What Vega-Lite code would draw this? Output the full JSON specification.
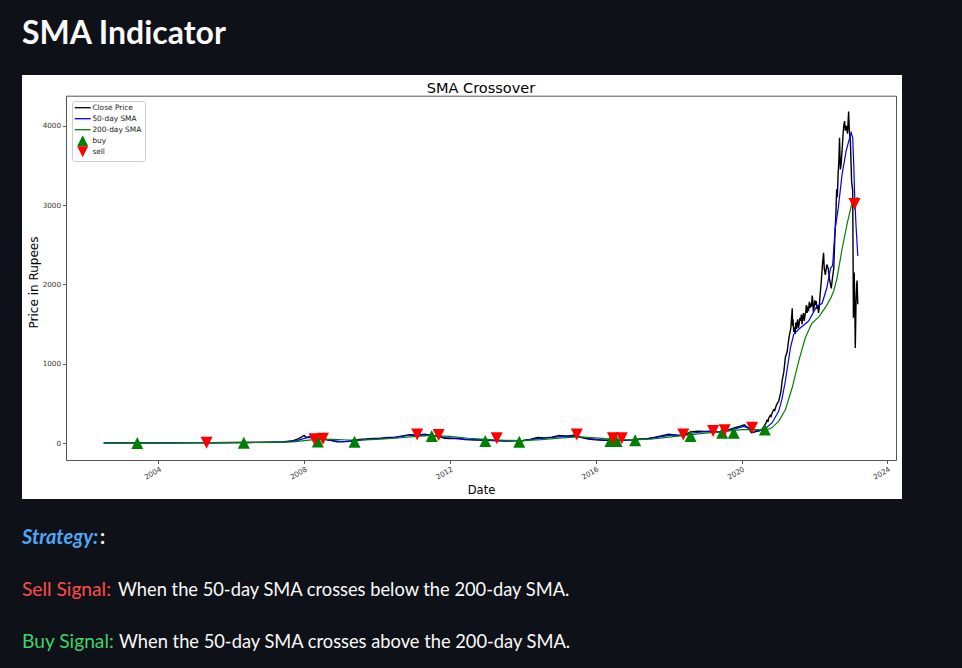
{
  "$schema": "https://vega.github.io/schema/vega-lite/v6.json",
  "background": "#0e1117",
  "padding": {"left": 22, "top": 18, "right": 60, "bottom": 0},
  "title": {"text": "SMA Indicator", "anchor": "start", "font": "Lato", "fontSize": 32, "fontWeight": "bold", "color": "#fafafa", "offset": 24, "frame": "bounds"},
  "config": {"view": {"stroke": null}, "axis": {"grid": false}},
  "spacing": 0,
  "datasets": {
    "close": [
      {"date": "2002-07-01", "series": "Close Price", "value": 2},
      {"date": "2003-01-01", "series": "Close Price", "value": 2},
      {"date": "2003-07-01", "series": "Close Price", "value": 3},
      {"date": "2004-01-01", "series": "Close Price", "value": 3},
      {"date": "2004-07-01", "series": "Close Price", "value": 4},
      {"date": "2005-01-01", "series": "Close Price", "value": 5},
      {"date": "2005-07-01", "series": "Close Price", "value": 4},
      {"date": "2006-01-01", "series": "Close Price", "value": 6},
      {"date": "2006-07-01", "series": "Close Price", "value": 7},
      {"date": "2007-01-01", "series": "Close Price", "value": 10},
      {"date": "2007-05-27", "series": "Close Price", "value": 15},
      {"date": "2007-09-13", "series": "Close Price", "value": 30},
      {"date": "2007-11-06", "series": "Close Price", "value": 55},
      {"date": "2008-01-01", "series": "Close Price", "value": 95},
      {"date": "2008-01-19", "series": "Close Price", "value": 70},
      {"date": "2008-02-25", "series": "Close Price", "value": 80},
      {"date": "2008-04-20", "series": "Close Price", "value": 50},
      {"date": "2008-06-14", "series": "Close Price", "value": 60},
      {"date": "2008-08-08", "series": "Close Price", "value": 45},
      {"date": "2008-10-01", "series": "Close Price", "value": 30},
      {"date": "2008-11-25", "series": "Close Price", "value": 15},
      {"date": "2009-02-06", "series": "Close Price", "value": 18},
      {"date": "2009-04-20", "series": "Close Price", "value": 28},
      {"date": "2009-07-02", "series": "Close Price", "value": 45},
      {"date": "2009-09-13", "series": "Close Price", "value": 50},
      {"date": "2009-11-25", "series": "Close Price", "value": 58},
      {"date": "2010-02-06", "series": "Close Price", "value": 62},
      {"date": "2010-04-20", "series": "Close Price", "value": 70},
      {"date": "2010-07-02", "series": "Close Price", "value": 75},
      {"date": "2010-09-13", "series": "Close Price", "value": 90},
      {"date": "2010-11-25", "series": "Close Price", "value": 105},
      {"date": "2011-02-06", "series": "Close Price", "value": 100},
      {"date": "2011-04-20", "series": "Close Price", "value": 110},
      {"date": "2011-07-02", "series": "Close Price", "value": 95},
      {"date": "2011-09-13", "series": "Close Price", "value": 85},
      {"date": "2011-11-06", "series": "Close Price", "value": 60},
      {"date": "2012-01-01", "series": "Close Price", "value": 55},
      {"date": "2012-03-15", "series": "Close Price", "value": 60},
      {"date": "2012-05-27", "series": "Close Price", "value": 45},
      {"date": "2012-08-08", "series": "Close Price", "value": 40},
      {"date": "2012-10-19", "series": "Close Price", "value": 38},
      {"date": "2013-01-01", "series": "Close Price", "value": 35},
      {"date": "2013-03-15", "series": "Close Price", "value": 30},
      {"date": "2013-05-27", "series": "Close Price", "value": 28},
      {"date": "2013-08-08", "series": "Close Price", "value": 25},
      {"date": "2013-10-19", "series": "Close Price", "value": 30},
      {"date": "2014-01-01", "series": "Close Price", "value": 32},
      {"date": "2014-03-15", "series": "Close Price", "value": 45},
      {"date": "2014-05-27", "series": "Close Price", "value": 70},
      {"date": "2014-08-08", "series": "Close Price", "value": 65},
      {"date": "2014-10-19", "series": "Close Price", "value": 75},
      {"date": "2015-01-01", "series": "Close Price", "value": 95},
      {"date": "2015-03-15", "series": "Close Price", "value": 85},
      {"date": "2015-05-27", "series": "Close Price", "value": 100},
      {"date": "2015-08-08", "series": "Close Price", "value": 70},
      {"date": "2015-10-19", "series": "Close Price", "value": 50},
      {"date": "2016-01-01", "series": "Close Price", "value": 40},
      {"date": "2016-03-15", "series": "Close Price", "value": 35},
      {"date": "2016-05-27", "series": "Close Price", "value": 38},
      {"date": "2016-08-08", "series": "Close Price", "value": 33},
      {"date": "2016-10-19", "series": "Close Price", "value": 35},
      {"date": "2017-01-01", "series": "Close Price", "value": 40},
      {"date": "2017-03-15", "series": "Close Price", "value": 50},
      {"date": "2017-05-27", "series": "Close Price", "value": 55},
      {"date": "2017-08-08", "series": "Close Price", "value": 70},
      {"date": "2017-10-19", "series": "Close Price", "value": 90},
      {"date": "2018-01-01", "series": "Close Price", "value": 110},
      {"date": "2018-03-15", "series": "Close Price", "value": 100},
      {"date": "2018-05-27", "series": "Close Price", "value": 95},
      {"date": "2018-08-08", "series": "Close Price", "value": 140},
      {"date": "2018-10-19", "series": "Close Price", "value": 150},
      {"date": "2019-01-01", "series": "Close Price", "value": 145},
      {"date": "2019-03-15", "series": "Close Price", "value": 150},
      {"date": "2019-05-27", "series": "Close Price", "value": 140},
      {"date": "2019-08-08", "series": "Close Price", "value": 160},
      {"date": "2019-10-19", "series": "Close Price", "value": 190},
      {"date": "2019-12-13", "series": "Close Price", "value": 210},
      {"date": "2020-01-30", "series": "Close Price", "value": 230},
      {"date": "2020-03-15", "series": "Close Price", "value": 180},
      {"date": "2020-04-09", "series": "Close Price", "value": 130},
      {"date": "2020-05-27", "series": "Close Price", "value": 145},
      {"date": "2020-07-20", "series": "Close Price", "value": 165},
      {"date": "2020-08-29", "series": "Close Price", "value": 240},
      {"date": "2020-09-13", "series": "Close Price", "value": 290},
      {"date": "2020-09-24", "series": "Close Price", "value": 280},
      {"date": "2020-10-01", "series": "Close Price", "value": 320},
      {"date": "2020-10-15", "series": "Close Price", "value": 350},
      {"date": "2020-10-23", "series": "Close Price", "value": 335},
      {"date": "2020-11-03", "series": "Close Price", "value": 380},
      {"date": "2020-11-17", "series": "Close Price", "value": 420},
      {"date": "2020-11-28", "series": "Close Price", "value": 410},
      {"date": "2020-12-13", "series": "Close Price", "value": 470},
      {"date": "2020-12-24", "series": "Close Price", "value": 500},
      {"date": "2021-01-08", "series": "Close Price", "value": 530},
      {"date": "2021-01-30", "series": "Close Price", "value": 650},
      {"date": "2021-02-10", "series": "Close Price", "value": 780},
      {"date": "2021-02-28", "series": "Close Price", "value": 900},
      {"date": "2021-03-15", "series": "Close Price", "value": 1080},
      {"date": "2021-04-02", "series": "Close Price", "value": 1150},
      {"date": "2021-04-20", "series": "Close Price", "value": 1330},
      {"date": "2021-05-09", "series": "Close Price", "value": 1450},
      {"date": "2021-05-23", "series": "Close Price", "value": 1700},
      {"date": "2021-05-27", "series": "Close Price", "value": 1480},
      {"date": "2021-05-31", "series": "Close Price", "value": 1560},
      {"date": "2021-06-07", "series": "Close Price", "value": 1400},
      {"date": "2021-06-14", "series": "Close Price", "value": 1460},
      {"date": "2021-06-21", "series": "Close Price", "value": 1380},
      {"date": "2021-06-28", "series": "Close Price", "value": 1520},
      {"date": "2021-07-05", "series": "Close Price", "value": 1440},
      {"date": "2021-07-09", "series": "Close Price", "value": 1500},
      {"date": "2021-07-16", "series": "Close Price", "value": 1560},
      {"date": "2021-07-24", "series": "Close Price", "value": 1450},
      {"date": "2021-07-31", "series": "Close Price", "value": 1500},
      {"date": "2021-08-08", "series": "Close Price", "value": 1580},
      {"date": "2021-08-15", "series": "Close Price", "value": 1540},
      {"date": "2021-08-22", "series": "Close Price", "value": 1620},
      {"date": "2021-08-29", "series": "Close Price", "value": 1500},
      {"date": "2021-09-06", "series": "Close Price", "value": 1600},
      {"date": "2021-09-13", "series": "Close Price", "value": 1640},
      {"date": "2021-09-20", "series": "Close Price", "value": 1540},
      {"date": "2021-09-27", "series": "Close Price", "value": 1600},
      {"date": "2021-10-05", "series": "Close Price", "value": 1650},
      {"date": "2021-10-12", "series": "Close Price", "value": 1740},
      {"date": "2021-10-19", "series": "Close Price", "value": 1640},
      {"date": "2021-10-26", "series": "Close Price", "value": 1700},
      {"date": "2021-11-03", "series": "Close Price", "value": 1680},
      {"date": "2021-11-10", "series": "Close Price", "value": 1780},
      {"date": "2021-11-17", "series": "Close Price", "value": 1700},
      {"date": "2021-11-24", "series": "Close Price", "value": 1760},
      {"date": "2021-12-02", "series": "Close Price", "value": 1720},
      {"date": "2021-12-09", "series": "Close Price", "value": 1860},
      {"date": "2021-12-16", "series": "Close Price", "value": 1780},
      {"date": "2021-12-20", "series": "Close Price", "value": 1660},
      {"date": "2021-12-27", "series": "Close Price", "value": 1700},
      {"date": "2022-01-05", "series": "Close Price", "value": 1800},
      {"date": "2022-01-12", "series": "Close Price", "value": 1740},
      {"date": "2022-01-19", "series": "Close Price", "value": 1790},
      {"date": "2022-01-26", "series": "Close Price", "value": 1690},
      {"date": "2022-02-03", "series": "Close Price", "value": 1740},
      {"date": "2022-02-10", "series": "Close Price", "value": 1640},
      {"date": "2022-02-17", "series": "Close Price", "value": 1700},
      {"date": "2022-02-25", "series": "Close Price", "value": 1850},
      {"date": "2022-03-11", "series": "Close Price", "value": 2050},
      {"date": "2022-03-22", "series": "Close Price", "value": 2250},
      {"date": "2022-04-02", "series": "Close Price", "value": 2400},
      {"date": "2022-04-09", "series": "Close Price", "value": 2200},
      {"date": "2022-04-20", "series": "Close Price", "value": 2120},
      {"date": "2022-05-05", "series": "Close Price", "value": 2250},
      {"date": "2022-05-19", "series": "Close Price", "value": 2200},
      {"date": "2022-06-03", "series": "Close Price", "value": 2050},
      {"date": "2022-06-18", "series": "Close Price", "value": 1950},
      {"date": "2022-07-02", "series": "Close Price", "value": 2100},
      {"date": "2022-07-13", "series": "Close Price", "value": 2200},
      {"date": "2022-07-24", "series": "Close Price", "value": 2600},
      {"date": "2022-08-04", "series": "Close Price", "value": 2900},
      {"date": "2022-08-11", "series": "Close Price", "value": 3200},
      {"date": "2022-08-18", "series": "Close Price", "value": 3100},
      {"date": "2022-08-26", "series": "Close Price", "value": 3400},
      {"date": "2022-09-02", "series": "Close Price", "value": 3550},
      {"date": "2022-09-09", "series": "Close Price", "value": 3850},
      {"date": "2022-09-17", "series": "Close Price", "value": 3450},
      {"date": "2022-09-24", "series": "Close Price", "value": 3500},
      {"date": "2022-10-05", "series": "Close Price", "value": 3700},
      {"date": "2022-10-15", "series": "Close Price", "value": 3900},
      {"date": "2022-10-23", "series": "Close Price", "value": 4020},
      {"date": "2022-10-30", "series": "Close Price", "value": 4060},
      {"date": "2022-11-06", "series": "Close Price", "value": 3940},
      {"date": "2022-11-17", "series": "Close Price", "value": 4000},
      {"date": "2022-11-28", "series": "Close Price", "value": 3900},
      {"date": "2022-12-09", "series": "Close Price", "value": 4180},
      {"date": "2022-12-16", "series": "Close Price", "value": 3950},
      {"date": "2022-12-27", "series": "Close Price", "value": 3800},
      {"date": "2023-01-08", "series": "Close Price", "value": 3300},
      {"date": "2023-01-19", "series": "Close Price", "value": 3180},
      {"date": "2023-01-23", "series": "Close Price", "value": 2300},
      {"date": "2023-01-26", "series": "Close Price", "value": 1580},
      {"date": "2023-02-03", "series": "Close Price", "value": 2150},
      {"date": "2023-02-10", "series": "Close Price", "value": 1650},
      {"date": "2023-02-14", "series": "Close Price", "value": 1200},
      {"date": "2023-02-21", "series": "Close Price", "value": 1750},
      {"date": "2023-02-28", "series": "Close Price", "value": 2000},
      {"date": "2023-03-04", "series": "Close Price", "value": 2050},
      {"date": "2023-03-11", "series": "Close Price", "value": 1750}
    ],
    "sma50": [
      {"date": "2002-07-01", "series": "50-day SMA", "value": 2},
      {"date": "2004-01-01", "series": "50-day SMA", "value": 3},
      {"date": "2006-01-01", "series": "50-day SMA", "value": 6},
      {"date": "2007-01-01", "series": "50-day SMA", "value": 9},
      {"date": "2007-07-02", "series": "50-day SMA", "value": 14},
      {"date": "2007-10-19", "series": "50-day SMA", "value": 30},
      {"date": "2008-02-06", "series": "50-day SMA", "value": 70},
      {"date": "2008-04-20", "series": "50-day SMA", "value": 65},
      {"date": "2008-07-02", "series": "50-day SMA", "value": 50},
      {"date": "2008-10-19", "series": "50-day SMA", "value": 30},
      {"date": "2009-01-01", "series": "50-day SMA", "value": 18},
      {"date": "2009-04-20", "series": "50-day SMA", "value": 22},
      {"date": "2009-08-08", "series": "50-day SMA", "value": 40},
      {"date": "2010-01-01", "series": "50-day SMA", "value": 57},
      {"date": "2010-07-02", "series": "50-day SMA", "value": 72},
      {"date": "2010-11-25", "series": "50-day SMA", "value": 98},
      {"date": "2011-04-20", "series": "50-day SMA", "value": 102},
      {"date": "2011-08-08", "series": "50-day SMA", "value": 92},
      {"date": "2011-11-25", "series": "50-day SMA", "value": 70},
      {"date": "2012-03-15", "series": "50-day SMA", "value": 55},
      {"date": "2012-08-08", "series": "50-day SMA", "value": 43},
      {"date": "2013-01-01", "series": "50-day SMA", "value": 35},
      {"date": "2013-07-02", "series": "50-day SMA", "value": 28},
      {"date": "2014-01-01", "series": "50-day SMA", "value": 30},
      {"date": "2014-05-27", "series": "50-day SMA", "value": 55},
      {"date": "2014-10-19", "series": "50-day SMA", "value": 70},
      {"date": "2015-03-15", "series": "50-day SMA", "value": 88},
      {"date": "2015-07-02", "series": "50-day SMA", "value": 85},
      {"date": "2015-10-19", "series": "50-day SMA", "value": 58},
      {"date": "2016-03-15", "series": "50-day SMA", "value": 38},
      {"date": "2016-08-08", "series": "50-day SMA", "value": 35},
      {"date": "2017-01-01", "series": "50-day SMA", "value": 38},
      {"date": "2017-05-27", "series": "50-day SMA", "value": 52},
      {"date": "2017-10-19", "series": "50-day SMA", "value": 80},
      {"date": "2018-02-06", "series": "50-day SMA", "value": 103},
      {"date": "2018-05-27", "series": "50-day SMA", "value": 98},
      {"date": "2018-09-13", "series": "50-day SMA", "value": 130},
      {"date": "2019-01-01", "series": "50-day SMA", "value": 145},
      {"date": "2019-05-27", "series": "50-day SMA", "value": 145},
      {"date": "2019-10-19", "series": "50-day SMA", "value": 175},
      {"date": "2020-01-19", "series": "50-day SMA", "value": 210},
      {"date": "2020-04-20", "series": "50-day SMA", "value": 175},
      {"date": "2020-06-21", "series": "50-day SMA", "value": 150},
      {"date": "2020-08-29", "series": "50-day SMA", "value": 185},
      {"date": "2020-11-03", "series": "50-day SMA", "value": 256},
      {"date": "2021-01-08", "series": "50-day SMA", "value": 403},
      {"date": "2021-02-10", "series": "50-day SMA", "value": 560},
      {"date": "2021-03-15", "series": "50-day SMA", "value": 782},
      {"date": "2021-05-05", "series": "50-day SMA", "value": 1200},
      {"date": "2021-06-07", "series": "50-day SMA", "value": 1370},
      {"date": "2021-07-27", "series": "50-day SMA", "value": 1434},
      {"date": "2021-11-03", "series": "50-day SMA", "value": 1538},
      {"date": "2022-01-26", "series": "50-day SMA", "value": 1728},
      {"date": "2022-03-18", "series": "50-day SMA", "value": 1760},
      {"date": "2022-05-05", "series": "50-day SMA", "value": 1958},
      {"date": "2022-06-10", "series": "50-day SMA", "value": 2200},
      {"date": "2022-07-02", "series": "50-day SMA", "value": 2240},
      {"date": "2022-07-27", "series": "50-day SMA", "value": 2700},
      {"date": "2022-08-26", "series": "50-day SMA", "value": 2950},
      {"date": "2022-10-05", "series": "50-day SMA", "value": 3390},
      {"date": "2022-11-14", "series": "50-day SMA", "value": 3680},
      {"date": "2022-12-09", "series": "50-day SMA", "value": 3800},
      {"date": "2023-01-04", "series": "50-day SMA", "value": 3914},
      {"date": "2023-01-19", "series": "50-day SMA", "value": 3850},
      {"date": "2023-01-30", "series": "50-day SMA", "value": 3500},
      {"date": "2023-02-06", "series": "50-day SMA", "value": 3180},
      {"date": "2023-02-21", "series": "50-day SMA", "value": 2750},
      {"date": "2023-03-11", "series": "50-day SMA", "value": 2360}
    ],
    "sma200": [
      {"date": "2002-07-01", "series": "200-day SMA", "value": 2},
      {"date": "2004-01-01", "series": "200-day SMA", "value": 3},
      {"date": "2006-01-01", "series": "200-day SMA", "value": 5},
      {"date": "2007-01-01", "series": "200-day SMA", "value": 8},
      {"date": "2007-09-13", "series": "200-day SMA", "value": 15},
      {"date": "2008-01-01", "series": "200-day SMA", "value": 30},
      {"date": "2008-05-27", "series": "200-day SMA", "value": 50},
      {"date": "2008-10-19", "series": "200-day SMA", "value": 45},
      {"date": "2009-03-15", "series": "200-day SMA", "value": 38},
      {"date": "2009-08-08", "series": "200-day SMA", "value": 38},
      {"date": "2010-01-01", "series": "200-day SMA", "value": 45},
      {"date": "2010-07-02", "series": "200-day SMA", "value": 60},
      {"date": "2011-01-01", "series": "200-day SMA", "value": 80},
      {"date": "2011-07-02", "series": "200-day SMA", "value": 95},
      {"date": "2012-01-01", "series": "200-day SMA", "value": 85},
      {"date": "2012-07-02", "series": "200-day SMA", "value": 60},
      {"date": "2013-01-01", "series": "200-day SMA", "value": 45},
      {"date": "2013-07-02", "series": "200-day SMA", "value": 35},
      {"date": "2014-01-01", "series": "200-day SMA", "value": 30},
      {"date": "2014-07-02", "series": "200-day SMA", "value": 42},
      {"date": "2015-01-01", "series": "200-day SMA", "value": 62},
      {"date": "2015-07-02", "series": "200-day SMA", "value": 78},
      {"date": "2016-01-01", "series": "200-day SMA", "value": 65},
      {"date": "2016-07-02", "series": "200-day SMA", "value": 45},
      {"date": "2017-01-01", "series": "200-day SMA", "value": 38},
      {"date": "2017-07-02", "series": "200-day SMA", "value": 48},
      {"date": "2018-01-01", "series": "200-day SMA", "value": 75},
      {"date": "2018-07-02", "series": "200-day SMA", "value": 100},
      {"date": "2019-01-01", "series": "200-day SMA", "value": 125},
      {"date": "2019-07-02", "series": "200-day SMA", "value": 145},
      {"date": "2020-01-01", "series": "200-day SMA", "value": 170},
      {"date": "2020-05-27", "series": "200-day SMA", "value": 170},
      {"date": "2020-08-29", "series": "200-day SMA", "value": 160},
      {"date": "2020-11-03", "series": "200-day SMA", "value": 195},
      {"date": "2021-01-08", "series": "200-day SMA", "value": 277},
      {"date": "2021-03-15", "series": "200-day SMA", "value": 420},
      {"date": "2021-05-23", "series": "200-day SMA", "value": 700},
      {"date": "2021-07-27", "series": "200-day SMA", "value": 1034},
      {"date": "2021-10-01", "series": "200-day SMA", "value": 1328},
      {"date": "2021-12-05", "series": "200-day SMA", "value": 1510},
      {"date": "2022-02-14", "series": "200-day SMA", "value": 1590},
      {"date": "2022-04-20", "series": "200-day SMA", "value": 1710},
      {"date": "2022-06-14", "series": "200-day SMA", "value": 1830},
      {"date": "2022-07-13", "series": "200-day SMA", "value": 1917},
      {"date": "2022-08-15", "series": "200-day SMA", "value": 2080},
      {"date": "2022-10-05", "series": "200-day SMA", "value": 2450},
      {"date": "2022-11-25", "series": "200-day SMA", "value": 2770},
      {"date": "2023-01-12", "series": "200-day SMA", "value": 3030},
      {"date": "2023-02-10", "series": "200-day SMA", "value": 3070},
      {"date": "2023-03-11", "series": "200-day SMA", "value": 3100}
    ],
    "markers": [
      {"date": "2003-06-03", "series": "buy", "value": 0},
      {"date": "2005-04-27", "series": "sell", "value": 4},
      {"date": "2006-05-05", "series": "buy", "value": 3},
      {"date": "2008-04-13", "series": "sell", "value": 47},
      {"date": "2008-05-16", "series": "buy", "value": 20},
      {"date": "2008-07-06", "series": "sell", "value": 55},
      {"date": "2009-05-19", "series": "buy", "value": 17},
      {"date": "2011-02-06", "series": "sell", "value": 109},
      {"date": "2011-07-02", "series": "buy", "value": 88},
      {"date": "2011-09-09", "series": "sell", "value": 101},
      {"date": "2012-12-20", "series": "buy", "value": 25},
      {"date": "2013-04-13", "series": "sell", "value": 59},
      {"date": "2013-11-25", "series": "buy", "value": 17},
      {"date": "2015-06-25", "series": "sell", "value": 109},
      {"date": "2016-05-27", "series": "buy", "value": 25},
      {"date": "2016-06-21", "series": "sell", "value": 59},
      {"date": "2016-07-27", "series": "buy", "value": 25},
      {"date": "2016-09-17", "series": "sell", "value": 59},
      {"date": "2017-01-30", "series": "buy", "value": 34},
      {"date": "2018-05-27", "series": "sell", "value": 109},
      {"date": "2018-08-08", "series": "buy", "value": 88},
      {"date": "2019-03-22", "series": "sell", "value": 151},
      {"date": "2019-06-21", "series": "buy", "value": 130},
      {"date": "2019-07-16", "series": "sell", "value": 160},
      {"date": "2019-10-15", "series": "buy", "value": 130},
      {"date": "2020-04-16", "series": "sell", "value": 193},
      {"date": "2020-08-22", "series": "buy", "value": 172},
      {"date": "2023-02-06", "series": "sell", "value": 3014}
    ],
    "notes": [
      {"line": 1, "kind": "strategy", "prefix": "Strategy:", "rest": ":"},
      {"line": 2, "kind": "sell", "prefix": "Sell Signal:", "rest": "When the 50-day SMA crosses below the 200-day SMA."},
      {"line": 3, "kind": "buy", "prefix": "Buy Signal:", "rest": "When the 50-day SMA crosses above the 200-day SMA."}
    ]
  },
  "vconcat": [
    {
      "width": 880,
      "height": 424,
      "view": {"fill": "white", "stroke": null},
      "title": {"text": "SMA Crossover", "font": "DejaVu Sans", "fontSize": 14.5, "fontWeight": "normal", "color": "#000000", "anchor": "middle", "frame": "group", "offset": -16.7, "baseline": "alphabetic", "dx": 19, "dy": 15.7},
      "layer": [
        {
          "data": {"name": "close"},
          "mark": {"type": "line", "strokeWidth": 1.4},
          "encoding": {
            "x": {"field": "date", "type": "temporal",
              "scale": {"domain": [{"year": 2001, "month": 6, "date": 18}, {"year": 2024, "month": 3, "date": 28}], "range": [44, 874], "nice": false},
              "axis": {"orient": "bottom", "offset": -39, "values": [{"year": 2004}, {"year": 2008}, {"year": 2012}, {"year": 2016}, {"year": 2020}, {"year": 2024}], "format": "%Y", "labelAngle": -30, "labelAlign": "right", "labelBaseline": "top", "labelFont": "DejaVu Sans", "labelFontSize": 7.2, "labelColor": "#333333", "labelPadding": 1.5, "labelFlush": false, "labelOverlap": false, "labelBound": false, "tickSize": 3.5, "tickColor": "#333333", "tickWidth": 0.8, "domainColor": "#555555", "domainWidth": 1, "grid": false, "title": "Date", "titleFont": "DejaVu Sans", "titleFontSize": 11.5, "titleFontWeight": "normal", "titleColor": "#000000", "titleY": 33, "titleBaseline": "alphabetic"}},
            "y": {"field": "value", "type": "quantitative",
              "scale": {"domain": [-214, 4380], "range": [385, 20.7], "nice": false, "zero": false},
              "axis": {"orient": "left", "offset": -44, "values": [0, 1000, 2000, 3000, 4000], "format": "d", "labelFont": "DejaVu Sans", "labelFontSize": 7.2, "labelColor": "#333333", "labelPadding": 2, "labelFlush": false, "labelOverlap": false, "tickSize": 3.5, "tickColor": "#333333", "tickWidth": 0.8, "domainColor": "#555555", "domainWidth": 1, "grid": false, "title": "Price in Rupees", "titleFont": "DejaVu Sans", "titleFontSize": 12, "titleFontWeight": "normal", "titleColor": "#000000", "titleX": -28.5, "titleY": 207, "titleBaseline": "alphabetic"}},
            "color": {"field": "series", "type": "nominal",
              "scale": {"domain": ["Close Price", "50-day SMA", "200-day SMA", "buy", "sell"], "range": ["#000000", "#0000ff", "#008000", "#008000", "#ff0000"]},
              "legend": {"orient": "none", "legendX": 50, "legendY": 26, "title": null, "labelFont": "DejaVu Sans", "labelFontSize": 7.4, "labelColor": "#1a1a1a", "symbolSize": 64, "rowPadding": -1, "gridAlign": "all", "labelOffset": 6, "symbolOffset": 4, "padding": 3, "strokeColor": "#cccccc", "fillColor": "#ffffff", "cornerRadius": 2, "symbolStrokeWidth": 1.3,
                "encode": {"symbols": {"update": {
                  "shape": {"signal": "datum.value === 'buy' ? 'M0,-1L-1,1L1,1Z' : (datum.value === 'sell' ? 'M0,1L-1,-1L1,-1Z' : 'stroke')"},
                  "size": {"signal": "(datum.value === 'buy' || datum.value === 'sell') ? 121 : 256"},
                  "fill": {"signal": "({'Close Price': '#000000', '50-day SMA': '#0000ff', '200-day SMA': '#008000', 'buy': '#008000', 'sell': '#ff0000'})[datum.value]"},
                  "stroke": {"signal": "({'Close Price': '#000000', '50-day SMA': '#0000ff', '200-day SMA': '#008000', 'buy': '#008000', 'sell': '#ff0000'})[datum.value]"},
                  "strokeWidth": {"signal": "(datum.value === 'buy' || datum.value === 'sell') ? 0 : 1.3"},
                  "opacity": {"value": 1}
                }}}}
            }
          }
        },
        {
          "data": {"name": "sma50"},
          "mark": {"type": "line", "strokeWidth": 1.2},
          "encoding": {
            "x": {"field": "date", "type": "temporal", "axis": {"orient": "top", "offset": -20.7, "labels": false, "ticks": false, "title": null, "domainColor": "#555555", "domainWidth": 1, "grid": false}},
            "y": {"field": "value", "type": "quantitative", "axis": {"orient": "right", "offset": -6, "labels": false, "ticks": false, "title": null, "domainColor": "#555555", "domainWidth": 1, "grid": false}},
            "color": {"field": "series", "type": "nominal"}
          }
        },
        {
          "data": {"name": "sma200"},
          "mark": {"type": "line", "strokeWidth": 1.2},
          "encoding": {
            "x": {"field": "date", "type": "temporal", "axis": null},
            "y": {"field": "value", "type": "quantitative", "axis": null},
            "color": {"field": "series", "type": "nominal"}
          }
        },
        {
          "data": {"name": "markers"},
          "transform": [{"filter": "datum.series === 'buy'"}],
          "mark": {"type": "point", "filled": true, "opacity": 1, "size": 144, "shape": "M0,-1L-1,1L1,1Z", "strokeWidth": 0},
          "encoding": {
            "x": {"field": "date", "type": "temporal", "axis": null},
            "y": {"field": "value", "type": "quantitative", "axis": null},
            "color": {"field": "series", "type": "nominal"}
          }
        },
        {
          "data": {"name": "markers"},
          "transform": [{"filter": "datum.series === 'sell'"}],
          "mark": {"type": "point", "filled": true, "opacity": 1, "size": 144, "shape": "M0,1L-1,-1L1,-1Z", "strokeWidth": 0},
          "encoding": {
            "x": {"field": "date", "type": "temporal", "axis": null},
            "y": {"field": "value", "type": "quantitative", "axis": null},
            "color": {"field": "series", "type": "nominal"}
          }
        }
      ],
      "resolve": {"axis": {"x": "independent", "y": "independent"}}
    },
    {
      "width": 880,
      "height": 170,
      "data": {"name": "notes"},
      "encoding": {
        "x": {"datum": 0, "type": "quantitative", "scale": {"domain": [0, 1]}, "axis": null},
        "y": {"field": "line", "type": "quantitative", "scale": {"domain": [0.1238, 3.412], "reverse": true, "nice": false, "zero": false}, "axis": null}
      },
      "layer": [
        {
          "transform": [{"filter": "datum.kind === 'strategy'"}],
          "mark": {"type": "text", "align": "left", "baseline": "alphabetic", "font": "Lato", "fontSize": 20, "fontWeight": "bold", "fontStyle": "italic", "color": "#4ea6f5"},
          "encoding": {"text": {"field": "prefix"}}
        },
        {
          "transform": [{"filter": "datum.kind === 'strategy'"}],
          "mark": {"type": "text", "align": "left", "baseline": "alphabetic", "font": "Lato", "fontSize": 20, "fontWeight": "bold", "color": "#fafafa", "dx": 78},
          "encoding": {"text": {"field": "rest"}}
        },
        {
          "transform": [{"filter": "datum.kind === 'sell'"}],
          "mark": {"type": "text", "align": "left", "baseline": "alphabetic", "font": "Lato", "fontSize": 19.2, "color": "#ff4b4b"},
          "encoding": {"text": {"field": "prefix"}}
        },
        {
          "transform": [{"filter": "datum.kind === 'sell'"}],
          "mark": {"type": "text", "align": "left", "baseline": "alphabetic", "font": "Lato", "fontSize": 18.3, "color": "#fafafa", "dx": 96},
          "encoding": {"text": {"field": "rest"}}
        },
        {
          "transform": [{"filter": "datum.kind === 'buy'"}],
          "mark": {"type": "text", "align": "left", "baseline": "alphabetic", "font": "Lato", "fontSize": 19.2, "color": "#3dd56d"},
          "encoding": {"text": {"field": "prefix"}}
        },
        {
          "transform": [{"filter": "datum.kind === 'buy'"}],
          "mark": {"type": "text", "align": "left", "baseline": "alphabetic", "font": "Lato", "fontSize": 18.3, "color": "#fafafa", "dx": 97},
          "encoding": {"text": {"field": "rest"}}
        }
      ]
    }
  ]
}
